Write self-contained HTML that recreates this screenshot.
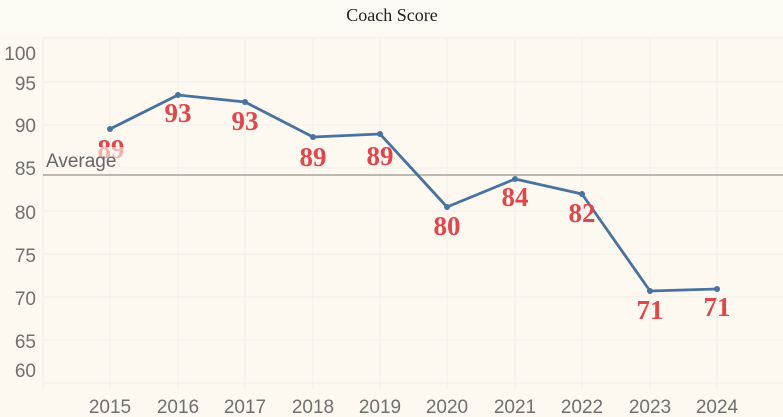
<!DOCTYPE html>
<html><head><style>
html,body{margin:0;padding:0;background:#fdf8f0;}
svg{display:block;}
</style></head><body>
<svg width="783" height="417" xmlns="http://www.w3.org/2000/svg">
<rect width="783" height="417" fill="#fdf8f0"/>
<rect width="783" height="36" fill="#fdf9f3"/>
<text x="392" y="21" text-anchor="middle" font-family="Liberation Serif, serif" font-size="18" fill="#222">Coach Score</text>
<g stroke="#f1efea" stroke-width="1">
<line x1="43" y1="38" x2="783" y2="38"/>
<line x1="43" y1="82" x2="783" y2="82"/>
<line x1="43" y1="125" x2="783" y2="125"/>
<line x1="43" y1="168" x2="783" y2="168"/>
<line x1="43" y1="211" x2="783" y2="211"/>
<line x1="43" y1="254" x2="783" y2="254"/>
<line x1="43" y1="297" x2="783" y2="297"/>
<line x1="43" y1="340" x2="783" y2="340"/>
<line x1="43" y1="383" x2="783" y2="383"/>
<line x1="43" y1="38" x2="43" y2="390"/>
<line x1="110" y1="38" x2="110" y2="390"/>
<line x1="178" y1="38" x2="178" y2="390"/>
<line x1="245" y1="38" x2="245" y2="390"/>
<line x1="313" y1="38" x2="313" y2="390"/>
<line x1="380" y1="38" x2="380" y2="390"/>
<line x1="447" y1="38" x2="447" y2="390"/>
<line x1="515" y1="38" x2="515" y2="390"/>
<line x1="582" y1="38" x2="582" y2="390"/>
<line x1="650" y1="38" x2="650" y2="390"/>
<line x1="717" y1="38" x2="717" y2="390"/>
</g>
<g font-family="Liberation Sans, sans-serif" font-size="19" fill="#707070" text-anchor="end">
<text x="36" y="60">100</text>
<text x="36" y="90">95</text>
<text x="36" y="132">90</text>
<text x="36" y="175">85</text>
<text x="36" y="219">80</text>
<text x="36" y="262">75</text>
<text x="36" y="305">70</text>
<text x="36" y="348">65</text>
<text x="36" y="377">60</text>
</g>
<g font-family="Liberation Sans, sans-serif" font-size="19" fill="#707070" text-anchor="middle">
<text x="110" y="413">2015</text><text x="178" y="413">2016</text><text x="245" y="413">2017</text>
<text x="313" y="413">2018</text><text x="380" y="413">2019</text><text x="447" y="413">2020</text>
<text x="515" y="413">2021</text><text x="582" y="413">2022</text><text x="650" y="413">2023</text>
<text x="717" y="413">2024</text>
</g>
<line x1="43" y1="175" x2="783" y2="175" stroke="#a8a49c" stroke-width="1.5"/>
<polyline fill="none" stroke="#4a72a0" stroke-width="2.8" stroke-linejoin="round"
points="110,129 178,95 245,102 313,137 380,134 447,207 515,179 582,194 650,291 717,289"/>
<g fill="#4a72a0">
<circle cx="110" cy="129" r="3"/><circle cx="178" cy="95" r="3"/><circle cx="245" cy="102" r="3"/>
<circle cx="313" cy="137" r="3"/><circle cx="380" cy="134" r="3"/><circle cx="447" cy="207" r="3"/>
<circle cx="515" cy="179" r="3"/><circle cx="582" cy="194" r="3"/><circle cx="650" cy="291" r="3"/>
<circle cx="717" cy="289" r="3"/>
</g>
<g font-family="Liberation Serif, serif" font-size="27" font-weight="bold" fill="#e0474c" text-anchor="middle">
<text x="111" y="158">89</text><text x="178" y="122">93</text><text x="245" y="130">93</text>
<text x="313" y="166">89</text><text x="380" y="165">89</text><text x="447" y="235">80</text>
<text x="515" y="206">84</text><text x="582" y="222">82</text><text x="650" y="319">71</text>
<text x="717" y="316">71</text>
</g>
<rect x="44" y="147" width="82" height="25" fill="#fdf8f0" opacity="0.6"/>
<text x="46" y="167" font-family="Liberation Sans, sans-serif" font-size="19" fill="#666">Average</text>
</svg>
</body></html>
